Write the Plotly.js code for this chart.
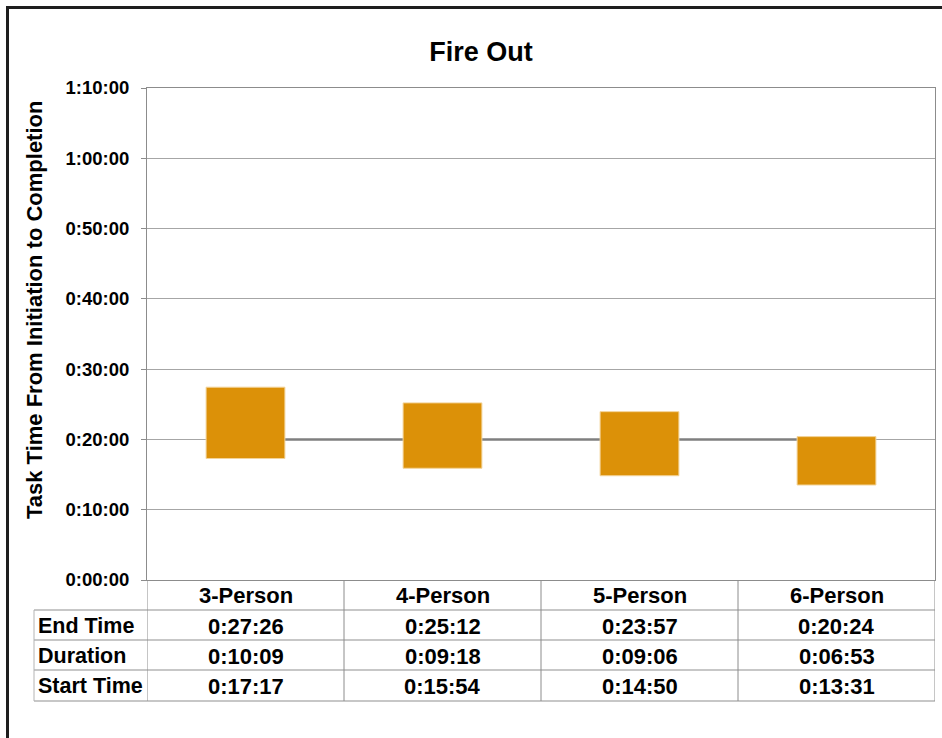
<!DOCTYPE html>
<html>
<head>
<meta charset="utf-8">
<script src="https://cdn.plot.ly/plotly-3.0.1.min.js"></script>
<style>
  html, body { margin: 0; padding: 0; background: #ffffff; overflow: hidden; }
  #frame { position: absolute; left: 6px; top: 6px; width: 1000px; height: 800px;
           border-left: 3px solid #1e1e1e; border-top: 3px solid #1e1e1e; pointer-events: none; z-index: 5; }
  #chart { position: absolute; left: 0; top: 0; width: 942px; height: 738px; }
</style>
</head>
<body>
<div id="chart"></div>
<div id="frame"></div>
<script>
// ---- data ----
const categories = ['3-Person', '4-Person', '5-Person', '6-Person'];
const endTimes   = ['0:27:26', '0:25:12', '0:23:57', '0:20:24'];
const durations  = ['0:10:09', '0:09:18', '0:09:06', '0:06:53'];
const startTimes = ['0:17:17', '0:15:54', '0:14:50', '0:13:31'];
const rowLabels  = ['End Time', 'Duration', 'Start Time'];
const refLine    = [20, 20, 20, 20];           // dark line at 0:20:00 (minutes), behind bars
const yTickVals  = [0, 10, 20, 30, 40, 50, 60, 70];
const yTickText  = ['0:00:00', '0:10:00', '0:20:00', '0:30:00', '0:40:00', '0:50:00', '1:00:00', '1:10:00'];

// ---- helpers ----
function toMin(s) { const p = s.split(':').map(Number); return p[0] * 60 + p[1] + p[2] / 60; }
const startMin = startTimes.map(toMin);
const endMin = endTimes.map(toMin);
const spanMin = endMin.map((e, i) => e - startMin[i]);

const W = 942, H = 738;
const L = 147, R = 935, T = 88, B = 580;
const plotW = R - L, plotH = B - T;
const px2py = y => (B - y) / plotH;
const px2px = x => (x - L) / plotW;

const FONT = 'Liberation Sans, Arial, sans-serif';

const traces = [
  {
    type: 'bar', x: categories, y: spanMin, base: startMin, width: 0.4,
    marker: { color: '#dc9108', line: { color: '#f3d49a', width: 1 } },
    showlegend: false
  }
];

// table geometry
const rowLinesPx = [610, 640, 670, 701];
const rowCentersPx = [626, 656, 686];
const headerCenterPx = 595;
const tableLeftPx = 34;

const shapes = [];
// reference line segments between consecutive categories (drawn under bars)
for (let i = 0; i < categories.length - 1; i++) {
  shapes.push({ type: 'line', xref: 'x', yref: 'y', layer: 'between',
                x0: i, x1: i + 1, y0: refLine[i], y1: refLine[i + 1],
                line: { color: '#7f7f7f', width: 2.5 } });
}
rowLinesPx.forEach(y => {
  shapes.push({ type: 'line', xref: 'paper', yref: 'paper', x0: px2px(tableLeftPx), x1: 1,
                y0: px2py(y), y1: px2py(y), line: { color: '#b4b4b4', width: 1.5 } });
});
for (let i = 0; i <= categories.length; i++) {
  shapes.push({ type: 'line', xref: 'x', yref: 'paper', x0: i - 0.5, x1: i - 0.5,
                y0: 0, y1: px2py(rowLinesPx[rowLinesPx.length - 1]), line: { color: '#8c8c8c', width: 1 } });
}
shapes.push({ type: 'line', xref: 'paper', yref: 'paper', x0: px2px(tableLeftPx), x1: px2px(tableLeftPx),
              y0: px2py(rowLinesPx[0]), y1: px2py(rowLinesPx[rowLinesPx.length - 1]), line: { color: '#b4b4b4', width: 1 } });

const annotations = [];
categories.forEach((c, i) => {
  annotations.push({ xref: 'x', yref: 'paper', x: c, y: px2py(headerCenterPx), yanchor: 'middle',
                     text: '<b>' + c + '</b>', showarrow: false, font: { family: FONT, size: 22, color: '#000' } });
});
const rows = [endTimes, durations, startTimes];
rowLabels.forEach((lab, r) => {
  annotations.push({ xref: 'paper', yref: 'paper', x: px2px(36), xanchor: 'left', y: px2py(rowCentersPx[r]), yanchor: 'middle',
                     text: '<b>' + lab + '</b>', showarrow: false, font: { family: FONT, size: 21.5, color: '#000' } });
  rows[r].forEach((v, i) => {
    annotations.push({ xref: 'x', yref: 'paper', x: categories[i], y: px2py(rowCentersPx[r]), yanchor: 'middle',
                       text: '<b>' + v + '</b>', showarrow: false, font: { family: FONT, size: 22, color: '#000' } });
  });
});
annotations.push({ xref: 'paper', yref: 'paper', x: px2px(34), y: px2py(310), xanchor: 'center', yanchor: 'middle',
                   textangle: -90, text: '<b>Task Time From Initiation to Completion</b>', showarrow: false,
                   font: { family: FONT, size: 22, color: '#000' } });

const layout = {
  width: W, height: H,
  margin: { l: L, r: W - R, t: T, b: H - B, pad: 0 },
  paper_bgcolor: '#ffffff', plot_bgcolor: '#ffffff',
  title: { text: '<b>Fire Out</b>', x: 481 / W, xref: 'container', xanchor: 'center',
           y: 1 - 52 / H, yref: 'container', yanchor: 'middle',
           font: { family: FONT, size: 27, color: '#000' } },
  font: { family: FONT, color: '#000' },
  xaxis: {
    type: 'category', range: [-0.5, 3.5], showticklabels: false, ticks: '',
    showgrid: false, zeroline: false, showline: true, linecolor: '#8c8c8c', linewidth: 1, mirror: true
  },
  yaxis: {
    range: [0, 70], tickvals: yTickVals, ticktext: yTickText.map(t => '<b>' + t + '</b>'),
    tickfont: { family: FONT, size: 18.5, color: '#000' },
    ticks: 'outside', ticklen: 5, tickcolor: '#8c8c8c', ticklabelstandoff: 8,
    showgrid: true, gridcolor: '#a6a6a6', gridwidth: 1, zeroline: false,
    showline: true, linecolor: '#8c8c8c', linewidth: 1, mirror: true
  },
  shapes: shapes,
  annotations: annotations,
  showlegend: false
};

Plotly.newPlot('chart', traces, layout, { displayModeBar: false, staticPlot: true });
</script>
</body>
</html>
